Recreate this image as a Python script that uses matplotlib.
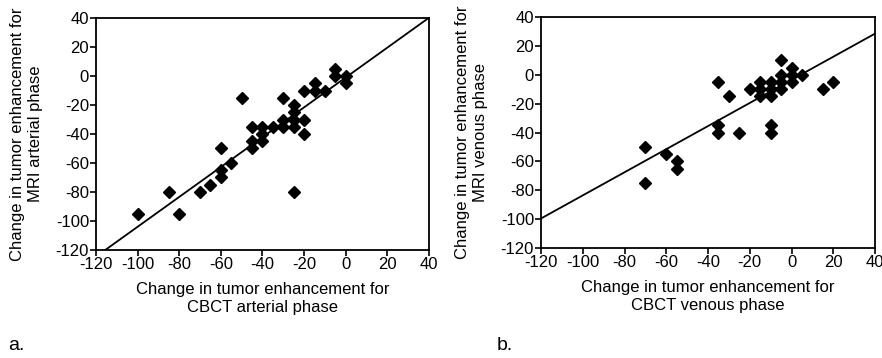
import matplotlib.pyplot as plt

plt.rcParams['font.family'] = ['Liberation Sans', 'DejaVu Sans']
plt.rcParams['axes.unicode_minus'] = False

# panel a: arterial phase (CBCT x, MRI y)
art_cbct = [-100, -85, -80, -70, -65, -60, -60, -60, -55, -50, -45, -45, -45,
            -40, -40, -40, -35, -30, -30, -30, -25, -25, -25, -25, -25,
            -20, -20, -20, -15, -15, -10, -5, -5, 0, 0]
art_mri = [-95, -80, -95, -80, -75, -50, -65, -70, -60, -15, -35, -45, -50,
           -35, -40, -45, -35, -15, -30, -35, -20, -25, -30, -35, -80,
           -10, -30, -40, -5, -10, -10, 5, 0, 0, -5]
art_fit = (1.03, -1.0)  # slope, intercept

# panel b: venous phase
ven_cbct = [-70, -70, -60, -55, -55, -35, -35, -35, -30, -25, -20, -15, -15, -15,
            -10, -10, -10, -10, -10, -5, -5, -5, -5, 0, 0, 0, 5, 15, 20]
ven_mri = [-50, -75, -55, -60, -65, -5, -35, -40, -15, -40, -10, -5, -10, -15,
           -5, -10, -15, -35, -40, 10, 0, -5, -10, 5, 0, -5, 0, -10, -5]
ven_fit = (0.8, -3.5)

ticks = [-120, -100, -80, -60, -40, -20, 0, 20, 40]

fig = plt.figure(figsize=(8.82, 3.58), dpi=100)
ax_a = fig.add_axes([0.1088, 0.3017, 0.3776, 0.648])
ax_b = fig.add_axes([0.6134, 0.307, 0.3787, 0.6455])

panels = [
    (ax_a, art_cbct, art_mri, art_fit, 'arterial', 'a.', 0.009),
    (ax_b, ven_cbct, ven_mri, ven_fit, 'venous', 'b.', 0.563),
]

for ax, xs, ys, fit, phase, tag, tag_x in panels:
    slope, icpt = fit
    lx = [-120, 40]
    ly = [slope * v + icpt for v in lx]
    ax.plot(lx, ly, color='black', lw=1.3, zorder=2)
    ax.plot(xs, ys, 'D', color='black', markersize=6.5, zorder=3, clip_on=False)
    ax.set_xlim(-120, 40)
    ax.set_ylim(-120, 40)
    ax.set_xticks(ticks)
    ax.set_yticks(ticks)
    ax.tick_params(direction='out', length=4, width=1.2, labelsize=12, pad=1, colors='black')
    for sp in ax.spines.values():
        sp.set_linewidth(1.3)
    ax.set_xlabel('Change in tumor enhancement for\nCBCT %s phase' % phase,
                  fontsize=12, linespacing=1.3, labelpad=7)
    ax.set_ylabel('Change in tumor enhancement for\nMRI %s phase' % phase,
                  fontsize=12, linespacing=1.3, labelpad=9)
    fig.text(tag_x, 0.01, tag, fontsize=14, ha='left', va='bottom')

fig.savefig('out.png', dpi=100)
